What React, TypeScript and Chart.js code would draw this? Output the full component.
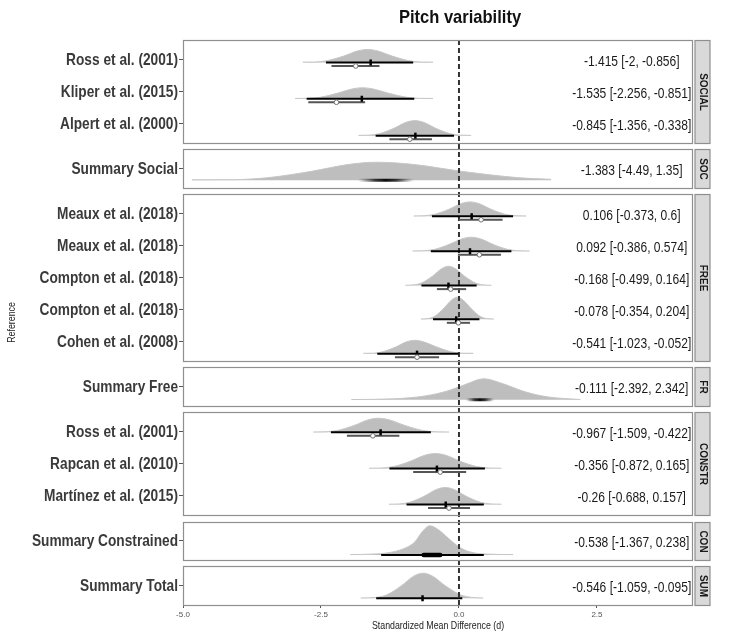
import { useEffect, useRef } from 'react';
import { Chart, registerables } from 'chart.js';

Chart.register(...registerables);

// ---------- data ----------
const PANELS = ['SOCIAL', 'SOC', 'FREE', 'FR', 'CONSTR', 'CON', 'SUM'];
const PANEL_ROWS = [3, 1, 5, 1, 3, 1, 1];

const STUDIES = [
  'Ross et al. (2001)', 'Kliper et al. (2015)', 'Alpert et al. (2000)',
  'Summary Social',
  'Meaux et al. (2018)', 'Meaux et al. (2018)', 'Compton et al. (2018)', 'Compton et al. (2018)', 'Cohen et al. (2008)',
  'Summary Free',
  'Ross et al. (2001)', 'Rapcan et al. (2010)', 'Martínez et al. (2015)',
  'Summary Constrained',
  'Summary Total',
];

// printed estimate [lower, upper]
const EST = [-1.415, -1.535, -0.845, -1.383, 0.106, 0.092, -0.168, -0.078, -0.541, -0.111, -0.967, -0.356, -0.26, -0.538, -0.546];
const EST_LO = [-2, -2.256, -1.356, -4.49, -0.373, -0.386, -0.499, -0.354, -1.023, -2.392, -1.509, -0.872, -0.688, -1.367, -1.059];
const EST_HI = [-0.856, -0.851, -0.338, 1.35, 0.6, 0.574, 0.164, 0.204, -0.052, 2.342, -0.422, 0.165, 0.157, 0.238, -0.095];

// posterior point and interval (black)
const POST_MID = [-1.60, -1.76, -0.79, null, 0.23, 0.20, -0.19, -0.05, -0.76, null, -1.42, -0.40, -0.24, null, -0.66];
const POST_LO = [-2.41, -2.76, -1.51, null, -0.49, -0.51, -0.68, -0.47, -1.48, null, -2.32, -1.26, -0.95, -1.41, -1.50];
const POST_HI = [-0.83, -0.81, -0.09, null, 0.98, 0.95, 0.32, 0.37, -0.01, null, -0.51, 0.47, 0.45, 0.45, 0.06];

// observed effect and interval (grey, open circle)
const OBS_MID = [-1.87, -2.22, -0.89, null, 0.40, 0.37, -0.15, -0.01, -0.76, null, -1.56, -0.34, -0.18, null, null];
const OBS_LO = [-2.31, -2.73, -1.26, null, 0.0, -0.02, -0.40, -0.22, -1.16, null, -2.03, -0.83, -0.56, null, null];
const OBS_HI = [-1.44, -1.70, -0.49, null, 0.79, 0.76, 0.13, 0.20, -0.36, null, -1.08, 0.13, 0.20, null, null];

// dense core of the summary posteriors
const CORE_LO = [null, null, null, -1.80, null, null, null, null, null, 0.14, null, null, null, -0.64, null];
const CORE_HI = [null, null, null, -0.85, null, null, null, null, null, 0.62, null, null, null, -0.34, null];

// posterior density ridges: sample locations and heights (in row units)
const RIDGE_X = [
  [-2.83, -2.61, -2.39, -2.09, -1.84, -1.65, -1.47, -1.21, -0.91, -0.69, -0.47],
  [-2.97, -2.74, -2.51, -2.21, -1.94, -1.75, -1.55, -1.27, -0.95, -0.71, -0.47],
  [-1.82, -1.63, -1.44, -1.18, -0.96, -0.80, -0.64, -0.42, -0.16, 0.03, 0.22],
  [-4.84, -4.09, -3.49, -2.69, -1.99, -1.49, -0.84, 0.07, 1.11, 1.67],
  [-0.82, -0.63, -0.44, -0.18, 0.04, 0.20, 0.36, 0.58, 0.84, 1.03, 1.22],
  [-0.84, -0.64, -0.44, -0.18, 0.06, 0.22, 0.39, 0.62, 0.88, 1.08, 1.28],
  [-0.97, -0.83, -0.68, -0.48, -0.31, -0.19, -0.07, 0.10, 0.30, 0.45, 0.59],
  [-0.69, -0.56, -0.44, -0.28, -0.13, -0.03, 0.07, 0.22, 0.38, 0.50, 0.63],
  [-1.73, -1.55, -1.38, -1.15, -0.95, -0.80, -0.64, -0.40, -0.14, 0.06, 0.26],
  [-1.95, -1.2, -0.6, -0.2, 0.1, 0.45, 0.8, 1.2, 1.6, 2.2],
  [-2.64, -2.42, -2.20, -1.90, -1.65, -1.46, -1.26, -0.98, -0.66, -0.42, -0.18],
  [-1.63, -1.41, -1.18, -0.88, -0.62, -0.43, -0.24, 0.02, 0.32, 0.55, 0.77],
  [-1.27, -1.08, -0.89, -0.63, -0.41, -0.25, -0.09, 0.13, 0.39, 0.58, 0.77],
  [-1.97, -1.5, -1.2, -0.95, -0.8, -0.66, -0.53, -0.37, -0.2, 0.0, 0.2, 0.5, 0.98],
  [-1.78, -1.51, -1.31, -1.05, -0.82, -0.65, -0.48, -0.24, 0.03, 0.23, 0.44],
];
const RIDGE_H = [
  [0.01, 0.014, 0.055, 0.198, 0.358, 0.406, 0.358, 0.198, 0.055, 0.014, 0.01],
  [0.01, 0.012, 0.046, 0.168, 0.303, 0.344, 0.303, 0.168, 0.046, 0.012, 0.01],
  [0.01, 0.016, 0.063, 0.228, 0.414, 0.469, 0.414, 0.228, 0.063, 0.016, 0.01],
  [0.015, 0.019, 0.076, 0.274, 0.496, 0.5625, 0.496, 0.274, 0.076, 0.03],
  [0.01, 0.015, 0.060, 0.218, 0.394, 0.447, 0.394, 0.218, 0.060, 0.015, 0.01],
  [0.01, 0.015, 0.059, 0.213, 0.386, 0.438, 0.386, 0.213, 0.059, 0.015, 0.01],
  [0.01, 0.021, 0.081, 0.294, 0.532, 0.603, 0.532, 0.294, 0.081, 0.021, 0.01],
  [0.01, 0.023, 0.093, 0.335, 0.606, 0.688, 0.606, 0.335, 0.093, 0.023, 0.01],
  [0.01, 0.014, 0.056, 0.203, 0.367, 0.416, 0.367, 0.203, 0.056, 0.014, 0.01],
  [0.01, 0.031, 0.125, 0.281, 0.469, 0.656, 0.5, 0.25, 0.094, 0.01],
  [0.01, 0.015, 0.059, 0.213, 0.386, 0.438, 0.386, 0.213, 0.059, 0.015, 0.01],
  [0.01, 0.016, 0.063, 0.228, 0.414, 0.469, 0.414, 0.228, 0.063, 0.016, 0.01],
  [0.01, 0.018, 0.072, 0.259, 0.468, 0.531, 0.468, 0.259, 0.072, 0.018, 0.01],
  [0.01, 0.031, 0.094, 0.234, 0.406, 0.734, 0.906, 0.781, 0.531, 0.25, 0.094, 0.025, 0.01],
  [0.01, 0.027, 0.105, 0.380, 0.689, 0.781, 0.689, 0.380, 0.105, 0.027, 0.01],
];

const X_TICKS = [-5, -2.5, 0, 2.5];

// ---------- layout ----------
const X_MIN = -5;
const X_MAX = 4.24;
const ROW_PAD = 0.6;
const PANEL_GAP = 0.2;
const RIDGE_SHIFT = [0.10, 0.23, 0.38, 0.37, 0.09, 0.18, 0.25, 0.30, 0.37, 0.41, 0.02, 0.15, 0.27, 0.44, 0.39];
const OBS_DROP = 0.11;
const LABEL_X = 3.13;

const FONT = "'Liberation Sans', Arial, sans-serif";
const FRAME = '#8f8f8f';
const STRIP_FILL = '#d9d9d9';
const RIDGE_FILL = '#bebebe';

function buildLayout() {
  const rowY: number[] = [];
  const spans: [number, number][] = [];
  let top = 0;
  PANEL_ROWS.forEach((n) => {
    for (let r = 0; r < n; r++) rowY.push(top + ROW_PAD + r);
    const bottom = top + (n - 1) + 2 * ROW_PAD;
    spans.push([top, bottom]);
    top = bottom + PANEL_GAP;
  });
  return { rowY, spans, yMax: top - PANEL_GAP };
}

function segment(lo: number, hi: number, y: number) {
  return [{ x: lo, y }, { x: hi, y }];
}

function buildDatasets(rowY: number[], yMax: number) {
  const ds: any[] = [];
  STUDIES.forEach((_, i) => {
    const base = rowY[i] + RIDGE_SHIFT[i];
    ds.push({
      type: 'line',
      data: RIDGE_X[i].map((x, j) => ({ x, y: base - RIDGE_H[i][j] })),
      fill: { value: base },
      backgroundColor: RIDGE_FILL,
      borderColor: '#c6c6c6',
      borderWidth: 1,
      pointRadius: 0,
      cubicInterpolationMode: 'monotone',
      order: 40,
    });
    if (OBS_LO[i] != null) {
      ds.push({
        type: 'line',
        data: segment(OBS_LO[i] as number, OBS_HI[i] as number, base + OBS_DROP),
        borderColor: '#555555',
        borderWidth: 2,
        pointRadius: 0,
        order: 22,
      });
    }
    if (POST_LO[i] != null) {
      ds.push({
        type: 'line',
        data: segment(POST_LO[i] as number, POST_HI[i] as number, base),
        borderColor: '#000000',
        borderWidth: 2,
        pointRadius: 0,
        order: 20,
      });
    }
    if (CORE_LO[i] != null) {
      const lo = CORE_LO[i] as number;
      const hi = CORE_HI[i] as number;
      const soft = POST_LO[i] == null;
      ds.push({
        type: 'line',
        data: segment(lo, hi, base),
        borderWidth: soft ? 3 : 4.5,
        borderCapStyle: 'round',
        pointRadius: 0,
        order: 18,
        borderColor: (c: any) => {
          const chart = c.chart;
          const xs = chart.scales?.x;
          if (!soft || !xs || !chart.chartArea) return '#000000';
          const g = chart.ctx.createLinearGradient(xs.getPixelForValue(lo), 0, xs.getPixelForValue(hi), 0);
          g.addColorStop(0, 'rgba(0,0,0,0.05)');
          g.addColorStop(0.3, 'rgba(0,0,0,0.75)');
          g.addColorStop(0.5, 'rgba(0,0,0,0.95)');
          g.addColorStop(0.7, 'rgba(0,0,0,0.75)');
          g.addColorStop(1, 'rgba(0,0,0,0.05)');
          return g;
        },
      });
    }
    if (POST_MID[i] != null) {
      ds.push({
        type: 'scatter',
        data: [{ x: POST_MID[i], y: base }],
        pointStyle: 'line',
        rotation: 90,
        pointRadius: 3,
        borderWidth: 2.5,
        borderColor: '#000000',
        order: 10,
      });
    }
    if (OBS_MID[i] != null) {
      ds.push({
        type: 'scatter',
        data: [{ x: OBS_MID[i], y: base + OBS_DROP }],
        pointStyle: 'circle',
        pointRadius: 2.3,
        backgroundColor: '#ffffff',
        borderColor: '#707070',
        borderWidth: 1,
        order: 9,
      });
    }
  });
  // zero reference line
  ds.push({
    type: 'line',
    data: [{ x: 0, y: 0 }, { x: 0, y: yMax }],
    borderColor: '#333333',
    borderWidth: 2,
    borderDash: [5, 3],
    pointRadius: 0,
    order: 30,
  });
  return ds;
}

function drawText(
  ctx: CanvasRenderingContext2D, text: string, x: number, y: number,
  font: string, color: string, align: CanvasTextAlign, sx: number, rot = 0,
) {
  ctx.save();
  ctx.translate(x, y);
  if (rot) ctx.rotate(rot);
  ctx.scale(sx, 1);
  ctx.font = font;
  ctx.fillStyle = color;
  ctx.textAlign = align;
  ctx.textBaseline = 'middle';
  ctx.fillText(text, 0, 0);
  ctx.restore();
}

function facetPlugin(rowY: number[], spans: [number, number][]) {
  return {
    id: 'facets',
    afterDatasetsDraw(chart: any) {
      const { ctx, chartArea, scales } = chart;
      const xs = scales.x;
      const ys = scales.y;
      const L = chartArea.left;
      const R = chartArea.right;
      ctx.save();
      spans.forEach(([t, b], k) => {
        const p0 = Math.round(ys.getPixelForValue(t)) + 0.5;
        const p1 = Math.round(ys.getPixelForValue(b)) + 0.5;
        ctx.lineWidth = 1.2;
        ctx.strokeStyle = FRAME;
        ctx.strokeRect(L + 0.5, p0, R - L - 1, p1 - p0);
        ctx.fillStyle = STRIP_FILL;
        ctx.fillRect(R + 2, p0, 15, p1 - p0);
        ctx.strokeRect(R + 2, p0, 15, p1 - p0);
        drawText(ctx, PANELS[k], R + 9.5, (p0 + p1) / 2, `bold 10.5px ${FONT}`, '#1a1a1a', 'center', 0.95, Math.PI / 2);
      });
      STUDIES.forEach((name, i) => {
        const py = ys.getPixelForValue(rowY[i]);
        drawText(ctx, name, L - 5, py + 1, `bold 16.5px ${FONT}`, '#3a3a3a', 'right', 0.83);
        const txt = `${EST[i]} [${EST_LO[i]}, ${EST_HI[i]}]`;
        drawText(ctx, txt, xs.getPixelForValue(LABEL_X), py + 2.5, `14px ${FONT}`, '#1a1a1a', 'center', 0.86);
      });
      drawText(ctx, 'Pitch variability', 460, 18, `bold 19px ${FONT}`, '#111111', 'center', 0.87);
      drawText(ctx, 'Standardized Mean Difference (d)', (L + R) / 2, 626, `10.5px ${FONT}`, '#222222', 'center', 0.84);
      drawText(ctx, 'Reference', 12, (chartArea.top + chartArea.bottom) / 2, `10.5px ${FONT}`, '#222222', 'center', 0.84, -Math.PI / 2);
      ctx.restore();
    },
  };
}

export default function App() {
  const ref = useRef<HTMLCanvasElement>(null);
  useEffect(() => {
    const canvas = ref.current;
    if (!canvas) return;
    const { rowY, spans, yMax } = buildLayout();
    const chart = new Chart(canvas, {
      type: 'line',
      data: { datasets: buildDatasets(rowY, yMax) as any },
      options: {
        responsive: false,
        animation: false,
        events: [],
        layout: { padding: { top: 40, right: 41, left: 0, bottom: 0 } },
        plugins: { legend: { display: false }, tooltip: { enabled: false } },
        scales: {
          x: {
            type: 'linear',
            min: X_MIN,
            max: X_MAX,
            afterBuildTicks: (s: any) => { s.ticks = X_TICKS.map((value) => ({ value })); },
            afterFit: (s: any) => { s.height = 30; },
            ticks: {
              autoSkip: false,
              maxRotation: 0,
              padding: 2,
              color: '#555555',
              font: { family: FONT, size: 8 },
              callback: (v: any) => Number(v).toFixed(1),
            },
            grid: { drawOnChartArea: false, drawTicks: true, tickLength: 3, color: '#555555' },
            border: { display: false },
          },
          y: {
            type: 'linear',
            min: 0,
            max: yMax,
            reverse: true,
            afterBuildTicks: (s: any) => { s.ticks = rowY.map((value) => ({ value })); },
            afterFit: (s: any) => { s.width = 183; },
            ticks: { display: false },
            grid: { drawOnChartArea: false, drawTicks: true, tickLength: 4, color: '#555555' },
            border: { display: false },
          },
        },
      } as any,
      plugins: [facetPlugin(rowY, spans)],
    });
    return () => chart.destroy();
  }, []);
  return (
    <div style={{ position: 'absolute', left: 0, top: 0, width: 734, height: 635 }}>
      <canvas ref={ref} width={734} height={635} style={{ display: 'block' }} />
    </div>
  );
}
